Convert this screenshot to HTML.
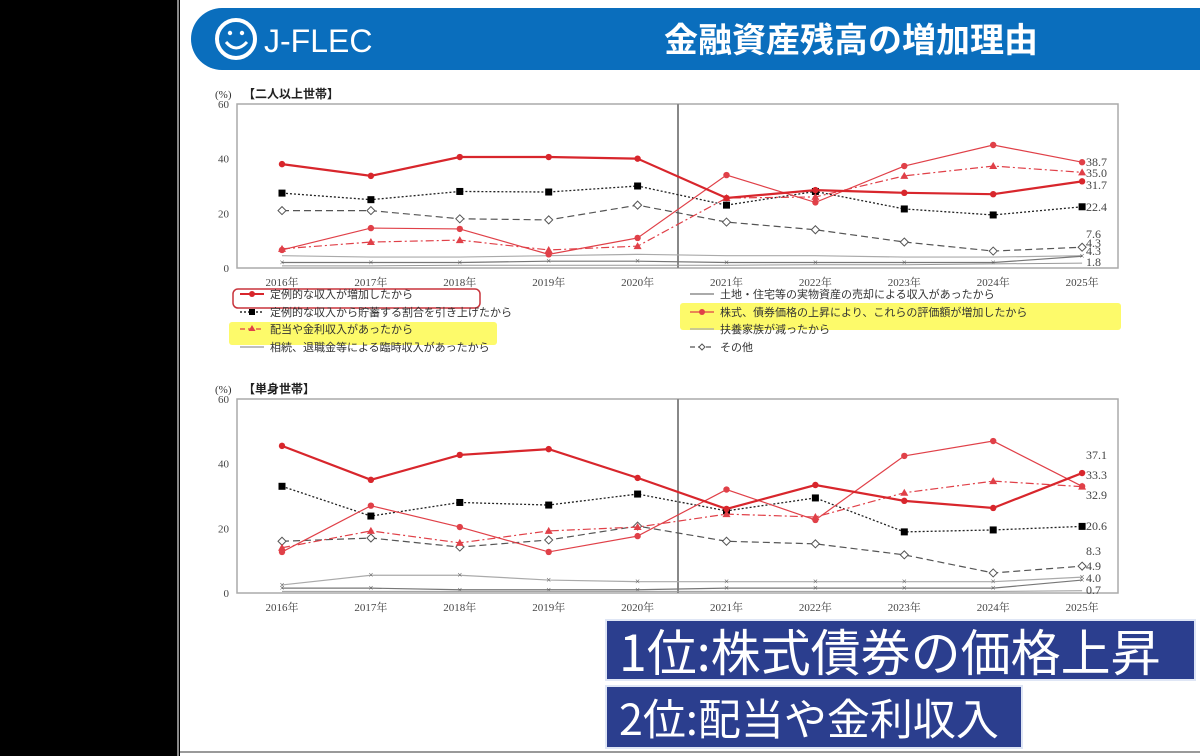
<!DOCTYPE html>
<html><head><meta charset="utf-8">
<style>
html,body{margin:0;padding:0;background:#000;width:1200px;height:756px;overflow:hidden;font-family:"Liberation Sans","Noto Sans CJK JP",sans-serif}
#slide{position:absolute;left:180px;top:0;width:1020px;height:756px;background:#fff}
.box{position:absolute;background:#2b3e8e;color:#fff;font-family:"Noto Sans CJK JP",sans-serif;line-height:58px;padding-left:12px;box-sizing:border-box;border:2px solid #dfe6f5;white-space:nowrap;overflow:hidden}
</style></head><body>
<div id="slide"></div>
<svg id="s" width="1200" height="756" style="position:absolute;left:0;top:0" font-family="Liberation Serif, Noto Serif CJK SC, serif">
<line x1="178" y1="0" x2="178" y2="756" stroke="#888" stroke-width="2"/>
<line x1="180" y1="752" x2="1200" y2="752" stroke="#999" stroke-width="2"/>
<path d="M222 8 H1200 V70 H222 A31 31 0 0 1 222 8 Z" fill="#0a6ebd"/>
<circle cx="236" cy="39" r="19" fill="none" stroke="#fff" stroke-width="4"/>
<path d="M226 42 Q236 54 247 42" fill="none" stroke="#fff" stroke-width="3"/>
<circle cx="230" cy="33" r="2.2" fill="#fff"/><circle cx="242" cy="33" r="2.2" fill="#fff"/>
<text x="264" y="52" fill="#fff" font-family="Liberation Sans, sans-serif" font-size="32">J-FLEC</text>
<text x="851" y="52" fill="#fff" font-family="Noto Sans CJK JP, sans-serif" font-size="34" text-anchor="middle" font-weight="bold">金融資産残高の増加理由</text>
<g id="g"></g>
</svg>
<div class="box" style="left:605px;top:619px;width:591px;height:62px;font-size:50px">1位:株式債券の価格上昇</div>
<div class="box" style="left:605px;top:685px;width:418px;height:64px;font-size:43px;line-height:60px">2位:配当や金利収入</div>
<script>
const NS="http://www.w3.org/2000/svg",G=document.getElementById('g');
function el(t,a,txt){const e=document.createElementNS(NS,t);for(const k in a)e.setAttribute(k,a[k]);if(txt!=null)e.textContent=txt;G.appendChild(e);return e;}
const years=[2016,2017,2018,2019,2020,2021,2022,2023,2024,2025];
function chart(top,bot,x0,x1,title,series,labels){
  const sc=(bot-top)/60, X=i=>282+i*88.9, Y=v=>bot-v*sc;
  el('rect',{x:x0,y:top,width:x1-x0,height:bot-top,fill:'none',stroke:'#aaa','stroke-width':1.5});
  el('line',{x1:678,y1:top,x2:678,y2:bot,stroke:'#888','stroke-width':2});
  [0,20,40,60].forEach(v=>el('text',{x:x0-8,y:Y(v)+4,'font-size':11,'text-anchor':'end',fill:'#444'},v));
  el('text',{x:x0-22,y:top-6,'font-size':11,fill:'#333'},'(%)');
  el('text',{x:x0+6,y:top-6,'font-size':12,fill:'#222','font-family':'Noto Sans CJK JP,sans-serif','font-weight':'bold'},title);
  years.forEach((y,i)=>el('text',{x:X(i),y:bot+18,'font-size':11,'text-anchor':'middle',fill:'#444'},y+'年'));
  series.forEach(s=>{
    const pts=s.d.map((v,i)=>X(i)+','+Y(v)).join(' ');
    el('polyline',{points:pts,fill:'none',stroke:s.c,'stroke-width':s.w,'stroke-dasharray':s.da||''});
    s.d.forEach((v,i)=>{const x=X(i),y=Y(v);
      if(s.m=='c')el('circle',{cx:x,cy:y,r:3.2,fill:s.c});
      else if(s.m=='s')el('rect',{x:x-3.5,y:y-3.5,width:7,height:7,fill:'#000'});
      else if(s.m=='t')el('path',{d:`M${x} ${y-4} L${x+4} ${y+3} L${x-4} ${y+3}Z`,fill:s.c});
      else if(s.m=='d')el('path',{d:`M${x} ${y-4} L${x+4} ${y} L${x} ${y+4} L${x-4} ${y}Z`,fill:'#fff',stroke:'#555'});
      else if(s.m=='x')el('text',{x:x,y:y+3,'font-size':9,'text-anchor':'middle',fill:'#555'},'×');
    });
  });
  labels.forEach(l=>el('text',{x:1086,y:l[1],'font-size':12,fill:'#444'},l[0]));
}
const R='#d8262c',R2='#e04048';
chart(104,268,237,1118,'【二人以上世帯】',[
 {d:[21,21,18,17.6,23,16.8,14,9.5,6.2,7.6],c:'#555',w:1.2,da:'7,4',m:'d'},
 {d:[4.5,4,4,4.5,5,4.5,4.5,4,4,4.5],c:'#aaa',w:1.2,m:''},
 {d:[2,2,2,2.5,2.5,2,2,2,2,4.3],c:'#777',w:1.2,m:'x'},
 {d:[0.8,0.8,1,1,1,1,1.2,1.2,1.5,1.8],c:'#999',w:1,m:''},
 {d:[27.4,25,28,27.8,30,23,28,21.6,19.4,22.4],c:'#222',w:1.3,da:'2,2',m:'s'},
 {d:[7,9.5,10.2,6.6,8,25.6,26,33.7,37.3,35],c:R2,w:1.2,da:'8,3,2,3',m:'t'},
 {d:[6.6,14.6,14.3,5,11,34,24,37.3,45,38.7],c:R2,w:1.2,m:'c'},
 {d:[38,33.7,40.6,40.6,40,25.6,28.5,27.5,27,31.7],c:R,w:2.2,m:'c'}
],[['38.7',166],['35.0',177],['31.7',189],['22.4',211],['7.6',238],['4.3',247],['4.3',255],['1.8',266]]);
chart(399,593,237,1118,'【単身世帯】',[
 {d:[16,17,14.2,16.4,20.7,16,15.2,11.8,6.2,8.3],c:'#555',w:1.2,da:'7,4',m:'d'},
 {d:[2.5,5.5,5.5,4,3.5,3.5,3.5,3.5,3.5,4.9],c:'#aaa',w:1.2,m:'x'},
 {d:[1.5,1.5,1,1,1,1.5,1.5,1.5,1.5,4],c:'#777',w:1.2,m:'x'},
 {d:[0.5,0.5,0.5,0.5,0.5,0.5,0.5,0.5,0.5,0.7],c:'#999',w:1,m:''},
 {d:[33,23.8,28,27.2,30.6,25.4,29.4,18.9,19.5,20.6],c:'#222',w:1.3,da:'2,2',m:'s'},
 {d:[14,19.2,15.5,19.2,20.4,24.4,23.5,31,34.6,32.9],c:R2,w:1.2,da:'8,3,2,3',m:'t'},
 {d:[12.7,27,20.4,12.7,17.6,32,22.6,42.4,47,33],c:R2,w:1.2,m:'c'},
 {d:[45.5,35,42.7,44.5,35.6,26,33.4,28.5,26.3,37.1],c:R,w:2.2,m:'c'}
],[['37.1',459],['33.3',479],['32.9',499],['20.6',530],['8.3',555],['4.9',570],['4.0',582],['0.7',594]]);
el('rect',{x:680,y:303,width:441,height:27,fill:'#fdfa6a',rx:3});
el('rect',{x:229,y:322,width:268,height:23,fill:'#fdfa6a',rx:3});
el('rect',{x:233,y:289,width:247,height:19,fill:'none',stroke:'#c8343c','stroke-width':1.5,rx:5});
const L=[[240,298,'定例的な収入が増加したから',R,'c',''],[240,316,'定例的な収入から貯蓄する割合を引き上げたから','#000','s','2,2'],[240,333,'配当や金利収入があったから',R2,'t','5,3'],[240,351,'相続、退職金等による臨時収入があったから','#999','x',''],
 [690,298,'土地・住宅等の実物資産の売却による収入があったから','#777','x',''],[690,316,'株式、債券価格の上昇により、これらの評価額が増加したから',R2,'c',''],[690,333,'扶養家族が減ったから','#aaa','',''],[690,351,'その他','#555','d','5,3']];
L.forEach(l=>{el('line',{x1:l[0],y1:l[1]-4,x2:l[0]+24,y2:l[1]-4,stroke:l[3],'stroke-width':l[3]==R?2:1.2,'stroke-dasharray':l[5]});
 const x=l[0]+12,y=l[1]-4;
 if(l[4]=='c')el('circle',{cx:x,cy:y,r:3,fill:l[3]});
 if(l[4]=='s')el('rect',{x:x-3,y:y-3,width:6,height:6,fill:'#000'});
 if(l[4]=='t')el('path',{d:`M${x} ${y-4} L${x+3.5} ${y+2} L${x-3.5} ${y+2}Z`,fill:l[3]});
 if(l[4]=='d')el('path',{d:`M${x} ${y-3} L${x+3} ${y} L${x} ${y+3} L${x-3} ${y}Z`,fill:'#fff',stroke:'#555'});
 el('text',{x:l[0]+30,y:l[1],'font-size':11,fill:'#333','font-family':'Noto Sans CJK JP,sans-serif'},l[2]);});
</script>
</body></html>
